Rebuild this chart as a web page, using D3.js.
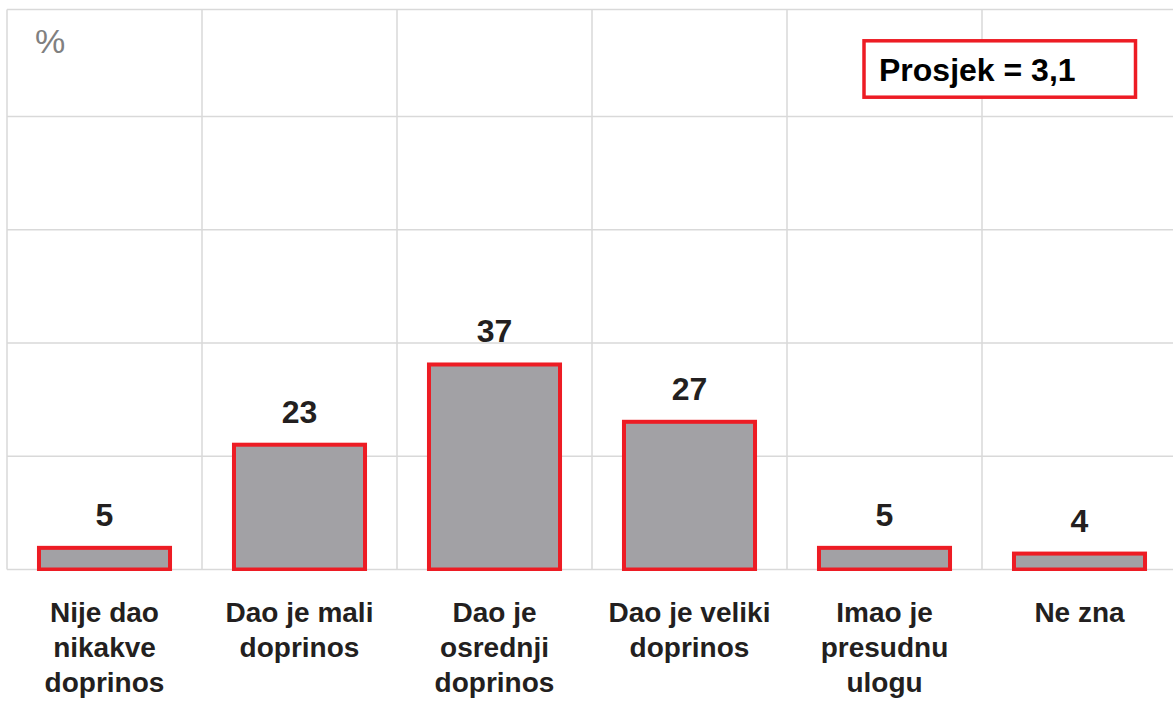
<!DOCTYPE html>
<html>
<head>
<meta charset="utf-8">
<script src="https://cdn.jsdelivr.net/npm/d3@7"></script>
<style>
  html, body { margin: 0; padding: 0; background: #ffffff; }
  svg { display: block; font-family: "Liberation Sans", Arial, Helvetica, sans-serif; }
</style>
</head>
<body>
<svg id="chart" width="1173" height="701"></svg>
<script>
// ---- data ----
const categories = [
  "Nije dao nikakve doprinos",
  "Dao je mali doprinos",
  "Dao je osrednji doprinos",
  "Dao je veliki doprinos",
  "Imao je presudnu ulogu",
  "Ne zna"
];
const categoryLines = [
  ["Nije dao", "nikakve", "doprinos"],
  ["Dao je mali", "doprinos"],
  ["Dao je", "osrednji", "doprinos"],
  ["Dao je veliki", "doprinos"],
  ["Imao je", "presudnu", "ulogu"],
  ["Ne zna"]
];
const values = [5, 23, 37, 27, 5, 4];
const averageLabel = "Prosjek = 3,1";
const unitLabel = "%";
const gridRows = [0, 1, 2, 3, 4];

// ---- layout ----
const svg = d3.select("#chart");
const plotLeft = 7, plotTop = 9.5, baseline = 569.5, plotRight = 1177;
const gridColor = "#d9d9d9";
const red = "#ed1c24";
const textColor = "#231f20";

const x = d3.scaleBand().domain(categories).range([plotLeft, plotRight]).padding(0);
const y = d3.scaleLinear().domain([0, 100]).range([576.5, 3.5]);
const row = d3.scaleLinear().domain([0, 4]).range([baseline, 116.5]);

// grid
const grid = svg.append("g");
grid.selectAll("line.h").data(gridRows).join("line")
  .attr("x1", plotLeft).attr("x2", 1173)
  .attr("y1", d => row(d)).attr("y2", d => row(d))
  .attr("stroke", gridColor).attr("stroke-width", 1.5);
grid.append("line")
  .attr("x1", plotLeft).attr("x2", 1173)
  .attr("y1", plotTop).attr("y2", plotTop)
  .attr("stroke", gridColor).attr("stroke-width", 1.5);
grid.selectAll("line.v").data(categories).join("line")
  .attr("x1", d => x(d)).attr("x2", d => x(d))
  .attr("y1", plotTop).attr("y2", baseline)
  .attr("stroke", gridColor).attr("stroke-width", 1.5);

// clip bars at baseline
svg.append("clipPath").attr("id", "plotclip")
  .append("rect").attr("x", 0).attr("y", 0).attr("width", 1173).attr("height", baseline + 1.5);

const barW = x.bandwidth() * 0.672;
svg.append("g").attr("clip-path", "url(#plotclip)")
  .selectAll("rect").data(values).join("rect")
  .attr("x", (d, i) => x(categories[i]) + (x.bandwidth() - barW) / 2)
  .attr("y", d => y(d))
  .attr("width", barW)
  .attr("height", d => baseline - y(d))
  .attr("fill", "#a2a1a5")
  .attr("stroke", red)
  .attr("stroke-width", 4);

// value labels
svg.append("g").selectAll("text").data(values).join("text")
  .attr("x", (d, i) => x(categories[i]) + x.bandwidth() / 2)
  .attr("y", d => y(d) - 22)
  .attr("text-anchor", "middle")
  .attr("font-size", 32).attr("font-weight", "bold")
  .attr("fill", textColor)
  .text(d => d);

// category labels
const cat = svg.append("g").selectAll("text").data(categoryLines).join("text")
  .attr("x", (d, i) => x(categories[i]) + x.bandwidth() / 2)
  .attr("y", 621.7)
  .attr("text-anchor", "middle")
  .attr("font-size", 28).attr("font-weight", "bold")
  .attr("fill", textColor);
cat.selectAll("tspan").data(d => d).join("tspan")
  .attr("x", function() { return d3.select(this.parentNode).attr("x"); })
  .attr("dy", (d, j) => j === 0 ? 0 : 35.3)
  .text(d => d);

// unit label
svg.append("text")
  .attr("x", 35).attr("y", 53)
  .attr("font-size", 34)
  .attr("fill", "#808080")
  .text(unitLabel);

// average box
svg.append("rect")
  .attr("x", 864).attr("y", 40.8).attr("width", 271.5).attr("height", 56.4)
  .attr("fill", "#ffffff").attr("stroke", red).attr("stroke-width", 3.5);
svg.append("text")
  .attr("x", 879).attr("y", 81)
  .attr("font-size", 32).attr("font-weight", "bold")
  .attr("fill", "#000000")
  .text(averageLabel);
</script>
</body>
</html>
